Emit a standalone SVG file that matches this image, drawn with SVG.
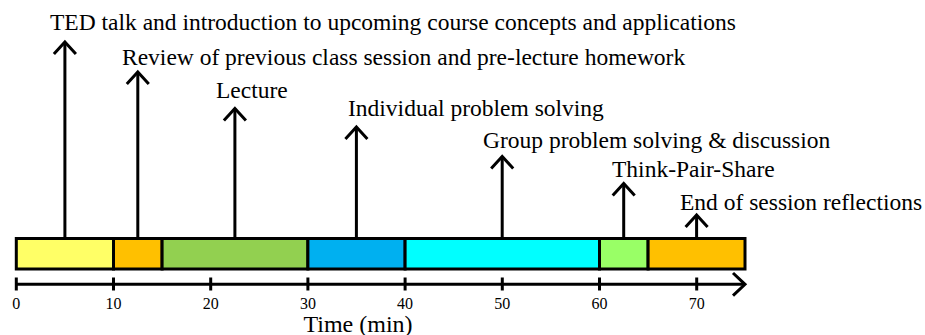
<svg xmlns="http://www.w3.org/2000/svg" width="925" height="335" viewBox="0 0 925 335">
<style>
text{font-family:'Liberation Serif','Times New Roman',serif;fill:#000}
.lbl{font-size:23.5px}
.tick{font-size:16px;text-anchor:middle}
.ax{font-size:24px;text-anchor:middle}
.seg{stroke:#000;stroke-width:3}
.ln{stroke:#000;stroke-width:3;fill:none}
.hd{stroke:#000;stroke-width:3;fill:none;stroke-linejoin:miter}
</style>
<rect width="925" height="335" fill="#fff"/>
<g id="bar">
<rect class="seg" x="16.3" y="238.5" width="97.2" height="30.5" fill="#FFFF66"/>
<rect class="seg" x="113.5" y="238.5" width="48.6" height="30.5" fill="#FFC000"/>
<rect class="seg" x="162.1" y="238.5" width="145.8" height="30.5" fill="#92D050"/>
<rect class="seg" x="307.9" y="238.5" width="97.2" height="30.5" fill="#00B0F0"/>
<rect class="seg" x="405.1" y="238.5" width="194.4" height="30.5" fill="#00FFFF"/>
<rect class="seg" x="599.5" y="238.5" width="48.6" height="30.5" fill="#99FF66"/>
<rect class="seg" x="648.1" y="238.5" width="96.9" height="30.5" fill="#FFC000"/>
</g>
<g id="axis">
<line class="ln" x1="16.3" y1="284.3" x2="745" y2="284.3"/>
<polyline class="hd" points="733,273 745,284.3 733,295.6"/>
<g class="ln">
<line x1="16.3" y1="277.5" x2="16.3" y2="290.5"/>
<line x1="113.5" y1="277.5" x2="113.5" y2="290.5"/>
<line x1="210.7" y1="277.5" x2="210.7" y2="290.5"/>
<line x1="307.9" y1="277.5" x2="307.9" y2="290.5"/>
<line x1="405.1" y1="277.5" x2="405.1" y2="290.5"/>
<line x1="502.3" y1="277.5" x2="502.3" y2="290.5"/>
<line x1="599.5" y1="277.5" x2="599.5" y2="290.5"/>
<line x1="696.7" y1="277.5" x2="696.7" y2="290.5"/>
</g>
<text class="tick" x="16.3" y="309">0</text>
<text class="tick" x="113.5" y="309">10</text>
<text class="tick" x="210.7" y="309">20</text>
<text class="tick" x="307.9" y="309">30</text>
<text class="tick" x="405.1" y="309">40</text>
<text class="tick" x="502.3" y="309">50</text>
<text class="tick" x="599.5" y="309">60</text>
<text class="tick" x="696.7" y="309">70</text>
<text class="ax" x="358" y="331.5">Time (min)</text>
</g>
<g id="connectors">
<line class="ln" x1="64.9" y1="42" x2="64.9" y2="238.5"/>
<polyline class="hd" points="53.9,54 64.9,42 75.9,54"/>
<line class="ln" x1="137.8" y1="72" x2="137.8" y2="238.5"/>
<polyline class="hd" points="126.8,84 137.8,72 148.8,84"/>
<line class="ln" x1="234.9" y1="108.5" x2="234.9" y2="238.5"/>
<polyline class="hd" points="223.9,120.5 234.9,108.5 245.9,120.5"/>
<line class="ln" x1="356.4" y1="127" x2="356.4" y2="238.5"/>
<polyline class="hd" points="345.4,139 356.4,127 367.4,139"/>
<line class="ln" x1="502.2" y1="156.5" x2="502.2" y2="238.5"/>
<polyline class="hd" points="491.2,168.5 502.2,156.5 513.2,168.5"/>
<line class="ln" x1="623.7" y1="183.5" x2="623.7" y2="238.5"/>
<polyline class="hd" points="612.7,195.5 623.7,183.5 634.7,195.5"/>
<line class="ln" x1="696.6" y1="215" x2="696.6" y2="238.5"/>
<polyline class="hd" points="685.6,227 696.6,215 707.6,227"/>
</g>
<g id="n1"><text class="lbl" x="50" y="30">TED talk and introduction to upcoming course concepts and applications</text></g>
<g id="n2"><text class="lbl" x="122" y="65">Review of previous class session and pre-lecture homework</text></g>
<g id="n3"><text class="lbl" x="216" y="98.3">Lecture</text></g>
<g id="n4"><text class="lbl" x="348" y="116">Individual problem solving</text></g>
<g id="n5"><text class="lbl" x="483" y="148">Group problem solving &amp; discussion</text></g>
<g id="n6"><text class="lbl" x="612" y="177.3">Think-Pair-Share</text></g>
<g id="n7"><text class="lbl" x="680" y="209.5">End of session reflections</text></g>
</svg>
